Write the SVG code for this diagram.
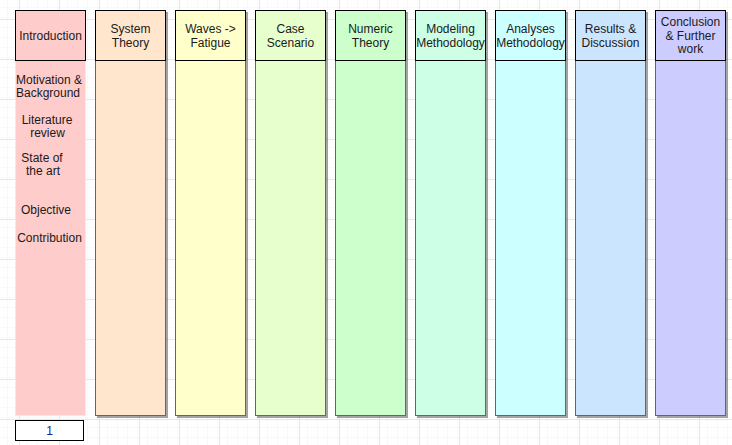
<svg xmlns="http://www.w3.org/2000/svg" width="732" height="445" viewBox="0 0 732 445">
<defs>
<pattern id="minor" width="10" height="10" patternUnits="userSpaceOnUse" x="-1" y="-1">
<path d="M10 0V10M0 10H10" fill="none" stroke="#f3f3f3" stroke-width="1"/>
</pattern>
<pattern id="major" width="40" height="40" patternUnits="userSpaceOnUse" x="-1" y="-1">
<rect width="40" height="40" fill="url(#minor)"/>
<path d="M20.5 0V40M0 20.5H40" fill="none" stroke="#e6e6e6" stroke-width="1"/>
</pattern>
<filter id="sh" x="-10%" y="-10%" width="130%" height="130%">
<feOffset dx="2" dy="2" in="SourceAlpha"/>
<feGaussianBlur stdDeviation="0.6"/>
<feComponentTransfer><feFuncA type="linear" slope="0.35"/></feComponentTransfer>
<feMerge><feMergeNode/><feMergeNode in="SourceGraphic"/></feMerge>
</filter>
</defs>
<style>
text{font-family:"Liberation Sans",Arial,sans-serif;font-size:12px;fill:#1a1a1a;text-anchor:middle}
.body{stroke:#666;stroke-width:1;filter:url(#sh)}
.head{stroke:#000;stroke-width:1}
</style>
<rect width="732" height="445" fill="#fff"/>
<rect width="732" height="445" fill="url(#major)"/>

<g id="introduction">
<rect x="15.5" y="60.5" width="70" height="355" fill="#ffcccc" stroke="#e4f2dc" stroke-width="1"/>
<rect x="15.5" y="10.5" width="70" height="50" fill="#ffcccc" class="head"/>
<text x="50.5" y="40">Introduction</text>
<text x="49" y="84">Motivation &amp;</text>
<text x="48" y="97">Background</text>
<text x="47" y="124">Literature</text>
<text x="47.5" y="137">review</text>
<text x="42" y="162">State of</text>
<text x="43" y="175">the art</text>
<text x="46" y="214">Objective</text>
<text x="49.5" y="242">Contribution</text>
</g>

<g id="system-theory">
<rect x="95.5" y="10.5" width="70" height="405" fill="#ffe6cc" class="body"/>
<rect x="95.5" y="10.5" width="70" height="50" fill="#ffe6cc" class="head"/>
<text x="130.5" y="33">System</text>
<text x="130.5" y="47">Theory</text>
</g>

<g id="waves-fatigue">
<rect x="175.5" y="10.5" width="70" height="405" fill="#ffffcc" class="body"/>
<rect x="175.5" y="10.5" width="70" height="50" fill="#ffffcc" class="head"/>
<text x="210.5" y="33">Waves -&gt;</text>
<text x="210.5" y="47">Fatigue</text>
</g>

<g id="case-scenario">
<rect x="255.5" y="10.5" width="70" height="405" fill="#e6ffcc" class="body"/>
<rect x="255.5" y="10.5" width="70" height="50" fill="#e6ffcc" class="head"/>
<text x="290.5" y="33">Case</text>
<text x="290.5" y="47">Scenario</text>
</g>

<g id="numeric-theory">
<rect x="335.5" y="10.5" width="70" height="405" fill="#ccffcc" class="body"/>
<rect x="335.5" y="10.5" width="70" height="50" fill="#ccffcc" class="head"/>
<text x="370.5" y="33">Numeric</text>
<text x="370.5" y="47">Theory</text>
</g>

<g id="modeling-methodology">
<rect x="415.5" y="10.5" width="70" height="405" fill="#ccffe6" class="body"/>
<rect x="415.5" y="10.5" width="70" height="50" fill="#ccffe6" class="head"/>
<text x="450.5" y="33">Modeling</text>
<text x="450.5" y="47">Methodology</text>
</g>

<g id="analyses-methodology">
<rect x="495.5" y="10.5" width="70" height="405" fill="#ccffff" class="body"/>
<rect x="495.5" y="10.5" width="70" height="50" fill="#ccffff" class="head"/>
<text x="530.5" y="33">Analyses</text>
<text x="530.5" y="47">Methodology</text>
</g>

<g id="results-discussion">
<rect x="575.5" y="10.5" width="70" height="405" fill="#cce5ff" class="body"/>
<rect x="575.5" y="10.5" width="70" height="50" fill="#cce5ff" class="head"/>
<text x="610.5" y="33">Results &amp;</text>
<text x="610.5" y="47">Discussion</text>
</g>

<g id="conclusion">
<rect x="655.5" y="10.5" width="70" height="405" fill="#ccccff" class="body"/>
<rect x="655.5" y="10.5" width="70" height="50" fill="#ccccff" class="head"/>
<text x="690.5" y="26">Conclusion</text>
<text x="690.5" y="40">&amp; Further</text>
<text x="690.5" y="53">work</text>
</g>

<g id="page-number">
<rect x="15.5" y="420.5" width="68" height="20" fill="#fff" stroke="#000" stroke-width="1"/>
<text x="49.5" y="435" style="fill:#1a1a8c">1</text>
</g>

<g id="connectors"/>
</svg>
